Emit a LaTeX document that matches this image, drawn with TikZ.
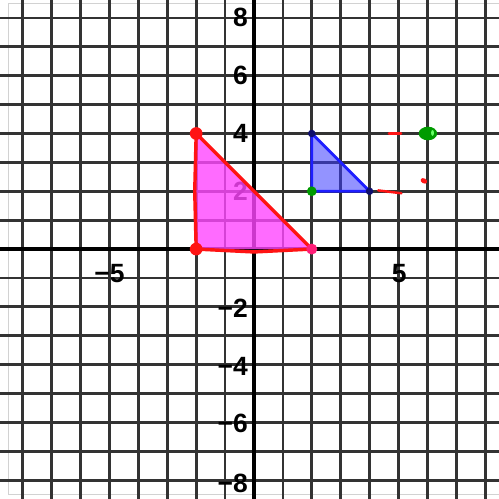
\documentclass[tikz,border=0pt]{standalone}
\usepackage{fontspec}
\usetikzlibrary{shapes.geometric}
\setmainfont{Liberation Sans}
\definecolor{gridc}{gray}{0.2}
\definecolor{magfill}{RGB}{255,70,255}
\definecolor{redline}{RGB}{255,20,20}
\definecolor{bluefill}{RGB}{60,60,255}
\definecolor{blueline}{RGB}{30,30,255}
\definecolor{navydot}{RGB}{15,15,110}
\definecolor{greendot}{RGB}{0,155,0}
\begin{document}
\begin{tikzpicture}[x=1cm,y=1cm,
  gridline/.style={gridc,line width=2.7pt},
  axisline/.style={black,line width=3.6pt},
  numlab/.style={font=\fontsize{26}{26}\selectfont\bfseries,text=black,inner sep=0pt},
  dotnode/.style={circle,inner sep=0pt,minimum size=#1},
]
\useasboundingbox (-8.79,-8.65) rectangle (8.48,8.62);
\fill[white] (-8.79,-8.65) rectangle (8.48,8.62);
% frame
\draw[gray!35,line width=1pt] (-8.5,-8.5) rectangle (8.5,8.5);
% grid
\foreach \i in {-8,...,8}{
  \draw[gridline] (\i,-8.65) -- (\i,8.62);
  \draw[gridline] (-8.79,\i) -- (8.48,\i);
}
% axes
\draw[axisline] (-8.79,0) -- (8.48,0);
\draw[axisline] (0,-8.65) -- (0,8.62);
% labels
\node[numlab,anchor=east] (l8) at (-0.21,8) {8};
\node[numlab,anchor=east] (l6) at (-0.21,6) {6};
\node[numlab,anchor=east] (l4) at (-0.21,4) {4};
\node[numlab,anchor=east] (l2) at (-0.21,2) {2};
\node[numlab,anchor=east] (lm2) at (-0.21,-2.05) {−2};
\node[numlab,anchor=east] (lm4) at (-0.21,-4.05) {−4};
\node[numlab,anchor=east] (lm6) at (-0.21,-6.05) {−6};
\node[numlab,anchor=east] (lm8) at (-0.21,-8.1) {−8};
\node[numlab] (xm5) at (-5,-0.83) {−5};
\node[numlab] (x5) at (5.03,-0.83) {5};
% magenta triangle
\coordinate (A) at (-2,4);
\coordinate (B) at (-2,0);
\coordinate (C) at (2,0);
\fill[magfill,fill opacity=0.8] (A) -- (B) -- (C) -- cycle;
\draw[redline,line width=3.4pt,line join=round] (A) -- (-2.05,2) -- (B) -- (0,-0.1) -- (C) -- cycle;
% blue triangle
\coordinate (D) at (2,4);
\coordinate (E) at (2,2);
\coordinate (F) at (4,2);
\fill[bluefill,fill opacity=0.55] (D) -- (E) -- (F) -- cycle;
\draw[blueline,line width=2.8pt,line join=round] (D) -- (E) -- (F) -- cycle;
% dots
\node[dotnode=0.44cm,fill=redline] (dA) at (A) {};
\node[dotnode=0.44cm,fill=redline] (dB) at (B) {};
\node[dotnode=0.38cm,fill={rgb,255:red,255;green,30;blue,120}] (dC) at (C) {};
\node[dotnode=0.26cm,fill=navydot] (dD) at (D) {};
\node[dotnode=0.26cm,fill=navydot] (dF) at (F) {};
\node[dotnode=0.34cm,fill=greendot] (dE) at (E) {};
% red marks
\coordinate (r1a) at (4.67,4);
\coordinate (r1b) at (5.09,4);
\coordinate (r2a) at (4.3,2.03);
\coordinate (r2b) at (5.1,1.93);
\draw[redline,line width=2.4pt,line cap=round] (r1a) -- (r1b);
\draw[redline,line width=2.4pt,line cap=round] (r2a) -- (r2b);
\node[ellipse,fill=redline,inner sep=0pt,minimum width=0.24cm,minimum height=0.17cm,rotate=-30] (rdot) at (5.88,2.36) {};
% green blob
\node[ellipse,fill=greendot,inner sep=0pt,minimum width=0.64cm,minimum height=0.47cm] (gblob) at (6.02,4) {};
\node[ellipse,fill=green!60!white,inner sep=0pt,minimum width=0.1cm,minimum height=0.2cm] (ghi) at (6.18,4.02) {};
\end{tikzpicture}
\end{document}
